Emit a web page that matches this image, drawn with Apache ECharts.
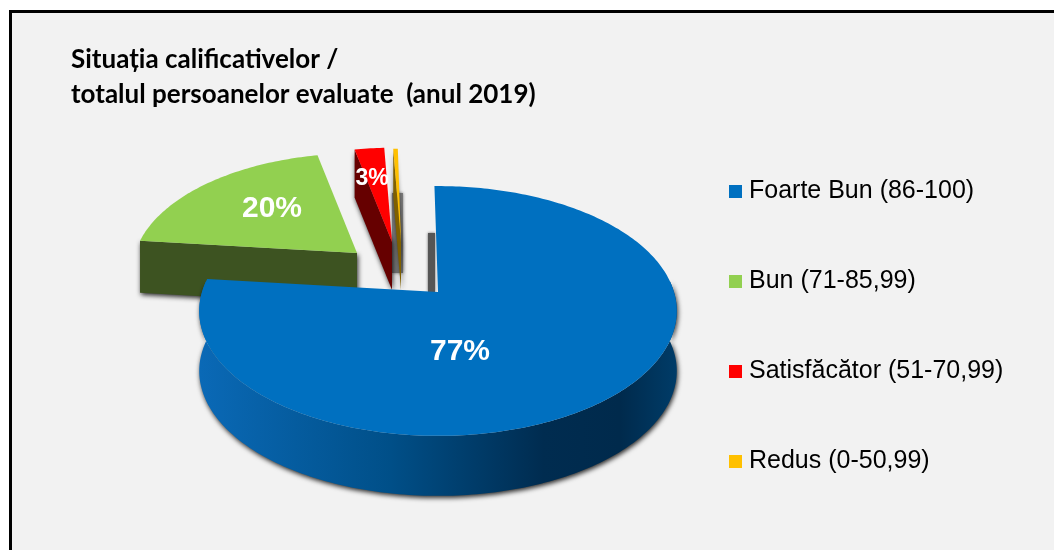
<!DOCTYPE html>
<html>
<head>
<meta charset="utf-8">
<style>
html, body { margin: 0; padding: 0; background: #fff; }
#chart-container { width: 1054px; height: 550px; }
</style>
</head>
<body>
<div id="chart-container"></div>
<script src="https://cdn.jsdelivr.net/npm/echarts@6/dist/echarts.min.js"></script>
<script>
let categories = ['Foarte Bun (86-100)', 'Bun (71-85,99)', 'Satisfăcător (51-70,99)', 'Redus (0-50,99)'];
let shares = [77, 20, 2.6, 0.4];
let shareLabels = ['77%', '20%', '3%', ''];

let topColors = ['#0070c0', '#92d050', '#ff0000', '#ffc000'];
let wallColors = ['#004d85', '#3d5321', '#660000', '#7f6000'];

// exploded slices sit further back, so they come out a bit smaller
let apexes = [[438, 292], [357, 253], [392, 242], [401, 243]];
let scales = [1, 0.94, 0.89, 0.89];
let depths = [60, 52, 48, 47];
let labelOffsets = [[22, 60], [-85, -44], [-20, -63], [0, 0]];
let labelFonts = ['bold 30px "Liberation Sans"', 'bold 30px "Liberation Sans"', 'bold 23px "Liberation Sans"', ''];
let sliceZ = [5, 3, 3, 2];

let startAngle = -1;
let persp = 0.152, radiusX = 236, radiusY = 122;

let dom = document.getElementById('chart-container');
let myChart = echarts.init(dom, null, { renderer: 'canvas' });

function rimPoint(idx, deg, dy) {
    let t = deg * Math.PI / 180;
    let u = Math.sin(t), v = Math.cos(t);
    let d = 1 + persp * v;
    return [
        apexes[idx][0] + scales[idx] * radiusX * u / d,
        apexes[idx][1] - scales[idx] * radiusY * v / d + (dy || 0)
    ];
}

function arcPoints(idx, from, to, dy) {
    let pts = [];
    for (let a = from; a <= to; a += 1) {
        pts.push(rimPoint(idx, a, dy));
    }
    pts.push(rimPoint(idx, to, dy));
    return pts;
}

let blueWall = {
    type: 'linear', x: 200, y: 0, x2: 677, y2: 0, global: true,
    colorStops: [
        { offset: 0, color: '#0a69b6' },
        { offset: 0.4, color: '#004f88' },
        { offset: 0.72, color: '#002c50' },
        { offset: 0.88, color: '#002a4c' },
        { offset: 1, color: '#003c68' }
    ]
};
let dropShadow = { shadowBlur: 5, shadowColor: 'rgba(0,0,0,0.85)', shadowOffsetX: 1, shadowOffsetY: 2 };

function renderSlice(idx) {
    return function(params, api) {
        let from = api.value(1);
        let to = from + api.value(0) * 3.6;
        let depth = depths[idx];
        let apex = apexes[idx];
        let children = [];

        // outer wall, only the part that faces the viewer
        let wallFrom = Math.max(from, 85), wallTo = Math.min(to, 275);
        if (wallTo > wallFrom) {
            let upper = arcPoints(idx, wallFrom, wallTo, 0);
            let lower = arcPoints(idx, wallFrom, wallTo, depth).reverse();
            children.push({
                type: 'polygon',
                z2: 1,
                shape: { points: upper.concat(lower) },
                style: Object.assign({ fill: blueWall }, dropShadow)
            });
        }

        // cut wall at the start of the slice
        let rimStart = rimPoint(idx, from, 0);
        if (idx > 0) {
            children.push({
                type: 'polygon',
                z2: 2,
                shape: { points: [rimStart, apex, [apex[0], apex[1] + depth], [rimStart[0], rimStart[1] + depth]] },
                style: Object.assign({ fill: wallColors[idx] }, dropShadow)
            });
        } else {
            // soft shadow the blue cut throws on the background
            children.push({
                type: 'rect',
                z2: 0,
                shape: { x: apex[0] - 10, y: apex[1] - 59, width: 7, height: 59 },
                style: { fill: '#555', shadowBlur: 3, shadowColor: 'rgba(0,0,0,0.6)' }
            });
        }
        if (idx === 3) {
            children.push({
                type: 'rect',
                z2: 0,
                shape: { x: apex[0] - 9, y: apex[1] - 50, width: 11, height: 80 },
                style: { fill: '#7a7a7a', shadowBlur: 3, shadowColor: 'rgba(0,0,0,0.5)' }
            });
        }

        // top face
        children.push({
            type: 'polygon',
            z2: 3,
            shape: { points: [apex].concat(arcPoints(idx, from, to, 0)) },
            style: { fill: topColors[idx] }
        });

        if (shareLabels[idx]) {
            children.push({
                type: 'text',
                z2: 4,
                style: {
                    text: shareLabels[idx],
                    x: apex[0] + labelOffsets[idx][0],
                    y: apex[1] + labelOffsets[idx][1],
                    fill: '#fff',
                    font: labelFonts[idx],
                    align: 'center',
                    verticalAlign: 'middle'
                }
            });
        }
        return { type: 'group', children: children };
    };
}

let running = startAngle;
let series = categories.map(function(name, idx) {
    let start = running;
    running += shares[idx] * 3.6;
    return {
        name: name,
        type: 'custom',
        coordinateSystem: 'none',
        z: sliceZ[idx],
        silent: true,
        itemStyle: { color: topColors[idx] },
        data: [[shares[idx], start]],
        renderItem: renderSlice(idx)
    };
});

let option = {
    backgroundColor: '#fff',
    animation: false,
    graphic: [{
        type: 'rect',
        z: -10,
        shape: { x: 10.5, y: 11.5, width: 1100, height: 600 },
        style: { fill: '#f2f2f2', stroke: '#000', lineWidth: 3 }
    }],
    title: {
        text: 'Situația calificativelor /\ntotalul persoanelor evaluate  (anul 2019)',
        left: 66,
        top: 37,
        textStyle: {
            fontFamily: 'Lato',
            fontWeight: 'bold',
            fontSize: 26,
            lineHeight: 35,
            color: '#000'
        }
    },
    legend: {
        orient: 'vertical',
        left: 724,
        top: 174,
        icon: 'rect',
        itemWidth: 13,
        itemHeight: 13,
        itemGap: 65,
        selectedMode: false,
        data: categories,
        textStyle: {
            fontFamily: 'Liberation Sans',
            fontSize: 25,
            color: '#000',
            padding: [0, 0, 0, 2]
        }
    },
    series: series
};

myChart.setOption(option);
window.addEventListener('resize', myChart.resize);
</script>
</body>
</html>
